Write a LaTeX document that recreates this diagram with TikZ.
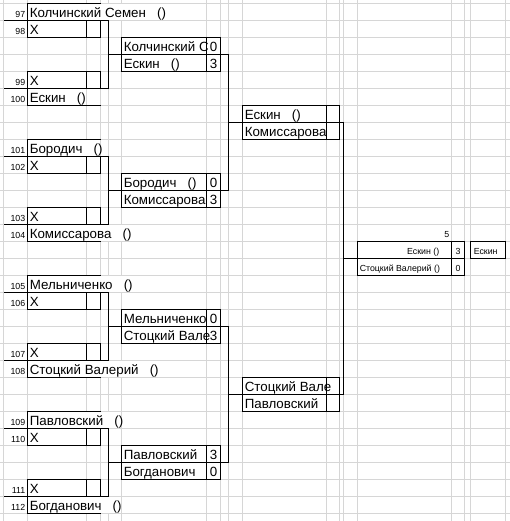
\documentclass[tikz,border=0pt]{standalone}
\usepackage{fontspec}
\setmainfont{Liberation Sans}
\definecolor{gridgray}{HTML}{D6D6D6}
\begin{document}
\begin{tikzpicture}[x=0.75pt,y=-0.75pt,
  gl/.style={draw=gridgray,line width=0.75pt},
  bd/.style={draw=black,line width=0.75pt},
  big/.style={inner sep=0pt,font=\fontsize{10}{12}\selectfont},
  sml/.style={inner sep=0pt,font=\fontsize{6.6}{8}\selectfont},
  lbl/.style={inner sep=0pt,anchor=base east,font=\fontsize{6.6}{8}\selectfont}]
\useasboundingbox (0,0) rectangle (510,521);
\fill[white] (0,0) rectangle (510,521);
% gridlines
\foreach \k in {0,...,30} \draw[gl] (0,{3.5+17*\k}) -- (510,{3.5+17*\k});
\foreach \x in {3.5,27.5,86.5,100.5,108.5,121.5,206.5,220.5,228.5,242.5,326.5,339.5,343.5,357.5,451.5,464.5,470.5,505.5}
  \draw[gl] (\x,0) -- (\x,521);
% overflow text hides gridlines
\foreach \r/\xe in {0/206,8/100,13/206,16/206,21/206,24/121,29/121}
  \fill[white] (28,{3.5+17*\r+0.5}) rectangle (\xe,{3.5+17*(\r+1)-0.5});
% round 1 and round 2 borders
\foreach \b in {0,...,3}{
  \pgfmathtruncatemacro\R{8*\b}
  \draw[bd] (27.5,{3.5+17*(\R+1)}) -- (27.5,{3.5+17*\R}) -- (100.5,{3.5+17*\R});
  \draw[bd] (3.5,{3.5+17*(\R+1)}) -- (108.5,{3.5+17*(\R+1)}) -- (108.5,{3.5+17*(\R+5)}) -- (3.5,{3.5+17*(\R+5)});
  \draw[bd] (27.5,{3.5+17*(\R+1)}) rectangle (100.5,{3.5+17*(\R+2)});
  \draw[bd] (86.5,{3.5+17*(\R+1)}) -- (86.5,{3.5+17*(\R+2)});
  \draw[bd] (27.5,{3.5+17*(\R+4)}) rectangle (100.5,{3.5+17*(\R+5)});
  \draw[bd] (86.5,{3.5+17*(\R+4)}) -- (86.5,{3.5+17*(\R+5)});
  \draw[bd] (27.5,{3.5+17*(\R+5)}) -- (27.5,{3.5+17*(\R+6)}) -- (100.5,{3.5+17*(\R+6)});
  \draw[bd] (121.5,{3.5+17*(\R+2)}) rectangle (220.5,{3.5+17*(\R+4)});
  \draw[bd] (206.5,{3.5+17*(\R+2)}) -- (206.5,{3.5+17*(\R+4)});
  \draw[bd] (108.5,{3.5+17*(\R+3)}) -- (228.5,{3.5+17*(\R+3)});
}
\draw[bd] (228.5,{3.5+17*3}) -- (228.5,{3.5+17*11});
\draw[bd] (228.5,{3.5+17*19}) -- (228.5,{3.5+17*27});
% round 3
\foreach \R in {6,22}{
  \draw[bd] (242.5,{3.5+17*\R}) rectangle (339.5,{3.5+17*(\R+2)});
  \draw[bd] (326.5,{3.5+17*\R}) -- (326.5,{3.5+17*(\R+2)});
  \draw[bd] (228.5,{3.5+17*(\R+1)}) -- (343.5,{3.5+17*(\R+1)});
}
\draw[bd] (343.5,{3.5+17*7}) -- (343.5,{3.5+17*23});
% final
\draw[bd] (357.5,{3.5+17*14}) rectangle (464.5,{3.5+17*16});
\draw[bd] (451.5,{3.5+17*14}) -- (451.5,{3.5+17*16});
\draw[bd] (343.5,{3.5+17*15}) -- (464.5,{3.5+17*15});
\draw[bd] (470.5,{3.5+17*14}) rectangle (505.5,{3.5+17*15});
% row labels and round 1 texts
\foreach \b/\ta/\tb in {0/Колчинский Семен/Ескин,1/Бородич/Комиссарова,2/Мельниченко/Стоцкий Валерий,3/Павловский/Богданович}{
  \pgfmathtruncatemacro\R{8*\b}
  \pgfmathtruncatemacro\La{97+4*\b}
  \pgfmathtruncatemacro\Lb{98+4*\b}
  \pgfmathtruncatemacro\Lc{99+4*\b}
  \pgfmathtruncatemacro\Ld{100+4*\b}
  \node[lbl] (la\b) at (25.5,{3.5+17*(\R+1)-3.4}) {\La};
  \node[lbl] (lb\b) at (25.5,{3.5+17*(\R+2)-3.4}) {\Lb};
  \node[lbl] (lc\b) at (25.5,{3.5+17*(\R+5)-3.4}) {\Lc};
  \node[lbl] (ld\b) at (25.5,{3.5+17*(\R+6)-3.4}) {\Ld};
  \node[big,anchor=base west] (pa\b) at (29.5,{3.5+17*(\R+1)-3.2}) {\ta\ \ \ ()};
  \node[big,anchor=base west] (xa\b) at (29.5,{3.5+17*(\R+2)-3.2}) {X};
  \node[big,anchor=base west] (xb\b) at (29.5,{3.5+17*(\R+5)-3.2}) {X};
  \node[big,anchor=base west] (pb\b) at (29.5,{3.5+17*(\R+6)-3.2}) {\tb\ \ \ ()};
}
% round 2 texts
\foreach \b/\ta/\sa/\tb/\sb in {0/Колчинский С/0/Ескин\ \ \ ()/3,1/Бородич\ \ \ ()/0/Комиссарова/3,2/Мельниченко/0/Стоцкий Вале/3,3/Павловский/3/Богданович/0}{
  \pgfmathtruncatemacro\R{8*\b}
  \node[big,anchor=base west] (qa\b) at (123.5,{3.5+17*(\R+3)-3.2}) {\ta};
  \node[big,anchor=base] (sa\b) at (213.5,{3.5+17*(\R+3)-3.2}) {\sa};
  \node[big,anchor=base west] (qb\b) at (123.5,{3.5+17*(\R+4)-3.2}) {\tb};
  \node[big,anchor=base] (sb\b) at (213.5,{3.5+17*(\R+4)-3.2}) {\sb};
}
% round 3 texts
\node[big,anchor=base west] (ra) at (244.5,{3.5+17*7-3.2}) {Ескин\ \ \ ()};
\node[big,anchor=base west] (rb) at (244.5,{3.5+17*8-3.2}) {Комиссарова};
\node[big,anchor=base west] (rc) at (244.5,{3.5+17*23-3.2}) {Стоцкий Вале};
\node[big,anchor=base west] (rd) at (244.5,{3.5+17*24-3.2}) {Павловский};
% final texts
\node[sml,anchor=base east] (fnum) at (449.5,{3.5+17*14-4.5}) {5};
\node[sml,anchor=base east] (fa) at (439.5,{3.5+17*15-4.5}) {Ескин ()};
\node[sml,anchor=base west] (fb) at (359.5,{3.5+17*16-4.5}) {Стоцкий Валерий ()};
\node[sml,anchor=base] (fsa) at (458,{3.5+17*15-4.5}) {3};
\node[sml,anchor=base] (fsb) at (458,{3.5+17*16-4.5}) {0};
\node[sml,anchor=base west] (win) at (473.5,{3.5+17*15-4.5}) {Ескин};
\end{tikzpicture}
\end{document}
